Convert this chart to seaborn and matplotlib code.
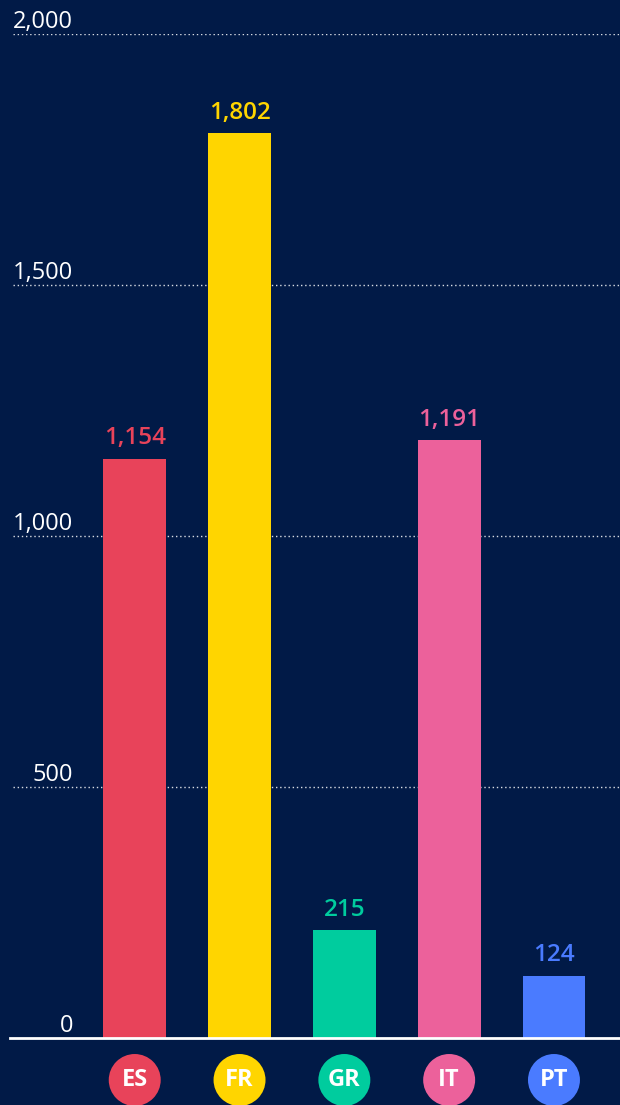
import matplotlib
matplotlib.use("Agg")
import matplotlib.pyplot as plt
import matplotlib.transforms as mtransforms
import seaborn as sns
import pandas as pd

countries = ["ES", "FR", "GR", "IT", "PT"]
values = [1154, 1802, 215, 1191, 124]
colors = ["#E8435A", "#FFD500", "#00CC9E", "#EC619B", "#4A7BFF"]
yticks = [0, 500, 1000, 1500, 2000]

BG = "#011A47"

sns.set_theme(style="white")
plt.rcParams["font.family"] = ["Open Sans", "DejaVu Sans"]

fig = plt.figure(figsize=(6.2, 11.05), dpi=100, facecolor=BG)
ax = fig.add_axes([10 / 620, 67 / 1105, 610 / 620, 1004 / 1105])
ax.set_facecolor(BG)

df = pd.DataFrame({"country": countries, "value": values})
sns.barplot(data=df, x="country", y="value", hue="country",
            palette=dict(zip(countries, colors)), width=0.6,
            saturation=1, legend=False, ax=ax, zorder=3, linewidth=0)

ax.set_xlim(-1.19, 4.63)
ax.set_ylim(0, 2000)

# gridlines
for t in yticks[1:]:
    ax.axhline(t, xmin=3 / 610, xmax=1, color="#FFFFFF", lw=1.0,
               ls=(0, (1, 2)), alpha=0.85, zorder=1)

# y tick labels above grid lines
trans_y = mtransforms.blended_transform_factory(ax.transAxes, ax.transData)
for t in yticks:
    ax.annotate(f"{t:,}", xy=(63 / 610, t), xycoords=trans_y,
                xytext=(0, 0), textcoords="offset points",
                ha="right", va="bottom", color="#FFFFFF", fontsize=17)

# value labels
for i, (v, c) in enumerate(zip(values, colors)):
    ax.annotate(f"{v:,}", xy=(i, v), xytext=(0, 6), textcoords="offset points",
                ha="center", va="bottom", color=c, fontsize=17.5,
                fontweight="semibold", zorder=5)

# circle country badges below axis
trans_x = mtransforms.blended_transform_factory(ax.transData, ax.transAxes)
yb = -(1080 - 1038) / 1004
ax.scatter(range(len(countries)), [yb] * len(countries), s=1400, c=colors,
           transform=trans_x, clip_on=False, zorder=5, linewidths=0)
for i, c in enumerate(countries):
    ax.text(i, yb, c, transform=trans_x, ha="center", va="center",
            color="#FFFFFF", fontsize=17, fontweight="bold", zorder=6)

for s in ["top", "right", "left"]:
    ax.spines[s].set_visible(False)
ax.spines["bottom"].set_color("#FFFFFF")
ax.spines["bottom"].set_linewidth(2)
ax.spines["bottom"].set_zorder(4)
ax.set_xticks([])
ax.set_yticks([])
ax.set_xlabel("")
ax.set_ylabel("")

fig.savefig("out.png", dpi=100, facecolor=BG)
